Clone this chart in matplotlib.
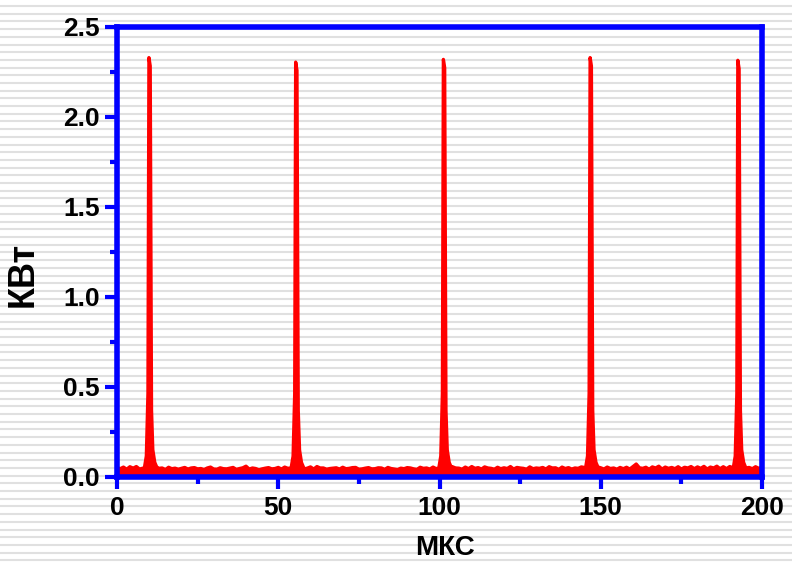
import numpy as np
import matplotlib
matplotlib.use('Agg')
import matplotlib.pyplot as plt
from matplotlib.ticker import MultipleLocator

# noise floor (top of the trace) every 1 us
t_base = list(range(0, 201))
p_base = [
    .052, .046, .055, .043, .057, .049, .058, .044, .056, .047, .054, .045, .052, .048, .050, .041, .054, .046, .049, .043,
    .048, .053, .044, .050, .052, .045, .047, .041, .050, .055, .044, .043, .051, .046, .045, .049, .053, .042, .047, .051,
    .060, .044, .050, .047, .040, .045, .049, .052, .045, .047, .053, .044, .055, .048, .050, .042, .054, .046, .045, .049,
    .056, .044, .058, .050, .050, .043, .047, .049, .051, .044, .054, .046, .048, .052, .053, .043, .045, .049, .052, .045,
    .046, .051, .050, .042, .053, .047, .044, .041, .049, .046, .052, .050, .045, .042, .054, .048, .050, .044, .055, .046,
    .052, .047, .051, .044, .057, .050, .049, .043, .055, .046, .058, .048, .052, .044, .056, .050, .048, .043, .054, .046,
    .051, .047, .058, .044, .053, .050, .048, .043, .056, .046, .050, .048, .053, .044, .057, .050, .051, .042, .055, .047,
    .052, .044, .050, .048, .056, .043, .054, .046, .048, .052, .051, .044, .055, .047, .050, .043, .053, .046, .054, .044,
    .058, .072, .051, .048, .054, .043, .056, .050, .060, .044, .055, .048, .053, .046, .057, .044, .054, .050, .058, .046,
    .056, .048, .059, .044, .055, .050, .060, .046, .057, .046, .058, .048, .054, .044, .056, .050, .053, .046, .057, .048,
    .054,
]

# pulses
peak_t = [10.1, 55.6, 101.4, 146.9, 192.7]
peak_h = [2.33, 2.305, 2.32, 2.33, 2.315]
# pulse profile around each peak (offset in us, fraction of peak)
peak_dx = [-1.6, -1.0, -0.5, -0.2, 0.2, 0.6, 1.0, 1.6, 2.2]
peak_fr = [0.022, 0.05, 0.2, 1.0, 0.98, 0.16, 0.065, 0.035, 0.024]

# merge floor + pulses
pts = []
for t, p in zip(t_base, p_base):
    if all(abs(t - c) > 2.3 for c in peak_t):
        pts.append((t, p))
for c, h in zip(peak_t, peak_h):
    for dx, fr in zip(peak_dx, peak_fr):
        pts.append((c + dx, max(fr * h, 0.045)))
pts.sort()
tt = [a for a, b in pts]
pp = [b for a, b in pts]

plt.rcParams['font.family'] = ['Liberation Sans', 'DejaVu Sans']
plt.rcParams['font.weight'] = 'bold'

fig = plt.figure(figsize=(7.92, 5.62), dpi=100)
fig.patch.set_facecolor('white')

# striped background
bg = fig.add_axes([0, 0, 1, 1], zorder=-1)
bg.set_xlim(0, 792)
bg.set_ylim(562, 0)
bg.axis('off')
for y in np.arange(6, 562, 7.7):
    bg.axhline(y, color='#e0e0e0', lw=1.5)

ax = fig.add_axes([117/792, 1-477/562, 645/792, 450/562])
ax.patch.set_alpha(0)
ax.fill_between(tt, 0, pp, color='#ff0000', lw=0)
ax.plot(tt, pp, color='#ff0000', lw=2.4)

ax.set_xlim(0, 200)
ax.set_ylim(0, 2.5)
ax.xaxis.set_major_locator(MultipleLocator(50))
ax.xaxis.set_minor_locator(MultipleLocator(25))
ax.yaxis.set_major_locator(MultipleLocator(0.5))
ax.yaxis.set_minor_locator(MultipleLocator(0.25))
ax.yaxis.set_major_formatter(plt.FuncFormatter(lambda v, pos: '%.1f' % v))

for s in ax.spines.values():
    s.set_color('#0000ff')
    s.set_linewidth(4)

ax.tick_params(which='major', direction='out', length=8.5, width=3, color='#0000ff',
               labelsize=19, pad=4)
ax.tick_params(which='minor', direction='out', length=5, width=3, color='#0000ff')
ax.tick_params(axis='x', which='major', pad=5)
for lab in ax.get_xticklabels() + ax.get_yticklabels():
    lab.set_fontweight('bold')

ax.set_xlabel('МКС', fontsize=20, fontweight='bold')
ax.set_ylabel('КВт', fontsize=26, fontweight='bold')
ax.xaxis.set_label_coords(0.508, -0.128)
ax.yaxis.set_label_coords(-0.118, 0.45)

fig.savefig('out.png', dpi=100)
